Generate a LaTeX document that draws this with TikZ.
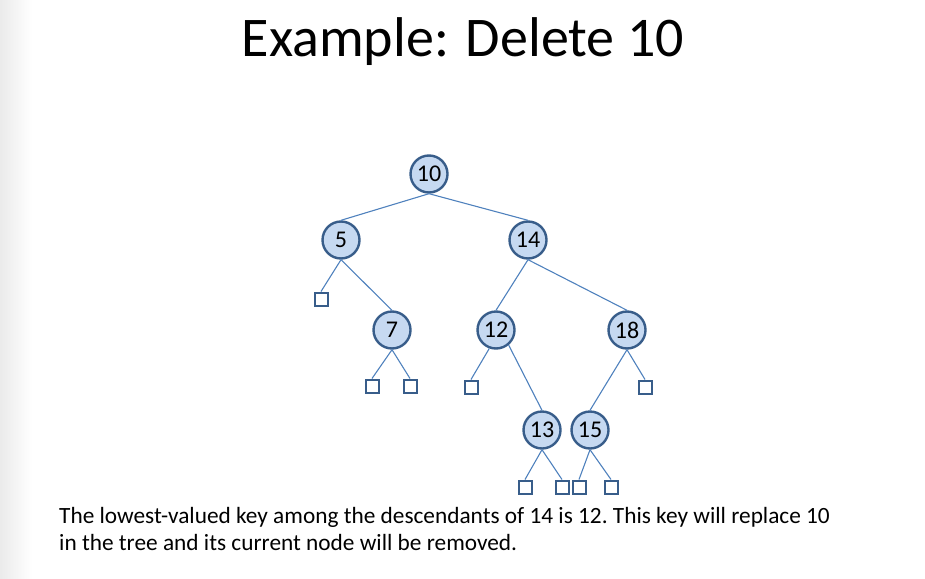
\documentclass[tikz,border=0pt]{standalone}
\usepackage{fontspec}
\setmainfont{Carlito}
\definecolor{edgeblue}{HTML}{4F81BD}
\definecolor{darkblue}{HTML}{385D8A}
\definecolor{fillblue}{HTML}{C6D9F1}
\begin{document}
\begin{tikzpicture}[x=1pt,y=-1pt,
  key/.style={circle,draw=darkblue,line width=2.4pt,fill=fillblue,minimum size=37pt,inner sep=0pt,font=\fontsize{24}{24}\selectfont},
  leaf/.style={rectangle,draw=darkblue,line width=2pt,fill=white,minimum size=13pt,inner sep=0pt},
  edge/.style={draw=edgeblue,line width=1.1pt}]
\useasboundingbox (0,0) rectangle (925,578);
\shade[left color=black!8,right color=white] (0,0) rectangle (32,578);
\node[font=\fontsize{56}{56}\selectfont] (title) at (463,42) {Example: Delete 10};
\node[key] (n10) at (429,174) {10};
\node[key] (n5) at (341,240) {5};
\node[key] (n14) at (528,240) {14};
\node[key] (n7) at (392,330) {7};
\node[key] (n12) at (496,330) {12};
\node[key] (n18) at (627,330) {18};
\node[key] (n13) at (542,430) {13};
\node[key] (n15) at (590,430) {15};
\node[leaf] (l5) at (321,299) {};
\node[leaf] (l7a) at (372,386) {};
\node[leaf] (l7b) at (410,386) {};
\node[leaf] (l12) at (471,387) {};
\node[leaf] (l18) at (645,387) {};
\node[leaf] (l13a) at (525,487) {};
\node[leaf] (l13b) at (562,487) {};
\node[leaf] (l15a) at (579,487) {};
\node[leaf] (l15b) at (611,487) {};
\draw[edge] (n10.south) -- (n5.north);
\draw[edge] (n10.south) -- (n14.north);
\draw[edge] (n5.south) -- (l5.north);
\draw[edge] (n5.south) -- (n7.north);
\draw[edge] (n7.south) -- (l7a.north);
\draw[edge] (n7.south) -- (l7b.north);
\draw[edge] (n14.south) -- (n12.north);
\draw[edge] (n14.south) -- (n18.north);
\draw[edge] (n12.-110) -- (l12.north);
\draw[edge] (n12.-50) -- (n13.north);
\draw[edge] (n18.south) -- (n15.north);
\draw[edge] (n18.south) -- (l18.north);
\draw[edge] (n13.south) -- (l13a.north);
\draw[edge] (n13.south) -- (l13b.north);
\draw[edge] (n15.south) -- (l15a.north);
\draw[edge] (n15.south) -- (l15b.north);
\node[anchor=north west,align=left,font=\fontsize{23.3}{27}\selectfont\frenchspacing,inner sep=0pt] (body) at (59,507) {The lowest-valued key among the descendants of 14 is 12. This key will replace 10\\in the tree and its current node will be removed.};
\end{tikzpicture}
\end{document}
